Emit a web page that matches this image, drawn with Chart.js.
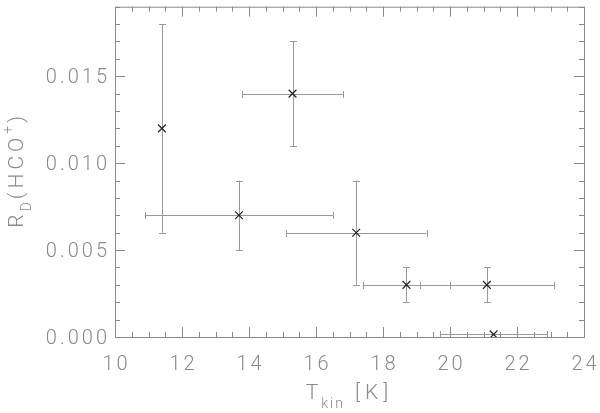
<!DOCTYPE html>
<html><head><meta charset="utf-8">
<script src="https://cdn.jsdelivr.net/npm/chart.js@4"></script>
<style>html,body{margin:0;padding:0;background:#fff}#w{width:600px;height:413px}</style>
</head><body><div id="w"><canvas id="c"></canvas></div>
<script>
const tKin   = [11.4, 13.7, 15.3, 17.2, 18.7, 21.1, 21.3];
const rD     = [0.012, 0.007, 0.014, 0.006, 0.003, 0.003, 0.00015];
const tErr   = [0, 2.8, 1.5, 2.1, 1.3, 2.0, 1.6];
const rErr   = [0.006, 0.002, 0.003, 0.003, 0.001, 0.001, 0];
const xTickValues = [10, 12, 14, 16, 18, 20, 22, 24];
const yTickValues = [0, 0.005, 0.010, 0.015];

const FONT = "Roboto, 'DejaVu Sans', sans-serif";
const W = '300';
const GRAY = '#8a8a8a';
const f = px => `${W} ${px}px ${FONT}`;

function txt(ctx, s, x, y, font, ls, align) {
  ctx.font = font;
  ctx.letterSpacing = ls + 'px';
  const w = ctx.measureText(s).width - ls;
  let sx = x;
  if (align === 'right') sx = x - w;
  else if (align === 'center') sx = x - w / 2;
  ctx.textAlign = 'left';
  ctx.fillText(s, sx, y);
  return w;
}
function wid(ctx, s, font, ls) {
  ctx.font = font; ctx.letterSpacing = ls + 'px';
  return ctx.measureText(s).width;
}

const frame = {
  id: 'frame',
  beforeDatasetsDraw(chart) {
    const {ctx, chartArea: a, scales: {x, y}} = chart;
    ctx.save();
    ctx.strokeStyle = GRAY; ctx.lineWidth = 1;
    ctx.strokeRect(a.left + 0.5, a.top + 0.5, a.right - a.left, a.bottom - a.top);
    ctx.beginPath();
    for (let v = x.min; v <= x.max + 1e-9; v += 0.5) {
      const px = Math.round(x.getPixelForValue(v)) + 0.5;
      const L = Math.abs(v - Math.round(v / 2) * 2) < 1e-9 ? 10 : 5;
      ctx.moveTo(px, a.bottom); ctx.lineTo(px, a.bottom - L);
      ctx.moveTo(px, a.top); ctx.lineTo(px, a.top + L);
    }
    for (let i = 0; i * 0.001 <= y.max + 1e-12; i++) {
      const v = i * 0.001;
      const py = Math.round(y.getPixelForValue(v)) + 0.5;
      const L = i % 5 === 0 ? 10 : 5;
      ctx.moveTo(a.left, py); ctx.lineTo(a.left + L, py);
      ctx.moveTo(a.right, py); ctx.lineTo(a.right - L, py);
    }
    ctx.stroke();
    ctx.strokeStyle = '#999';
    ctx.beginPath();
    const cap = 3.5;
    for (let i = 0; i < tKin.length; i++) {
      const px = x.getPixelForValue(tKin[i]), py = y.getPixelForValue(rD[i]);
      if (tErr[i] > 0) {
        const l = x.getPixelForValue(tKin[i] - tErr[i]), r = x.getPixelForValue(tKin[i] + tErr[i]);
        const yy = Math.round(py) + 0.5;
        ctx.moveTo(l, yy); ctx.lineTo(r, yy);
        ctx.moveTo(Math.round(l)+0.5, yy - cap); ctx.lineTo(Math.round(l)+0.5, yy + cap);
        ctx.moveTo(Math.round(r)+0.5, yy - cap); ctx.lineTo(Math.round(r)+0.5, yy + cap);
      }
      if (rErr[i] > 0) {
        const t = y.getPixelForValue(rD[i] + rErr[i]), b = y.getPixelForValue(rD[i] - rErr[i]);
        const xx = Math.round(px) + 0.5;
        ctx.moveTo(xx, t); ctx.lineTo(xx, b);
        ctx.moveTo(xx - cap, Math.round(t)+0.5); ctx.lineTo(xx + cap, Math.round(t)+0.5);
        ctx.moveTo(xx - cap, Math.round(b)+0.5); ctx.lineTo(xx + cap, Math.round(b)+0.5);
      }
    }
    ctx.stroke();
    ctx.restore();
  },
  afterDraw(chart) {
    const {ctx, chartArea: a, scales: {x, y}} = chart;
    ctx.save();
    ctx.fillStyle = GRAY;
    ctx.textBaseline = 'middle';
    xTickValues.forEach(v => txt(ctx, String(v), x.getPixelForValue(v), 365, f(20), 3, 'center'));
    yTickValues.forEach(v => txt(ctx, v.toFixed(3), 107, y.getPixelForValue(v) + 2, f(20), 3, 'right'));
    ctx.textBaseline = 'alphabetic';
    const cx = (a.left + a.right) / 2;
    const base = 399;
    const big = f(21), small = f(14);
    const w1 = wid(ctx, 'T', big, 3), w2 = wid(ctx, 'kin', small, 2), w3 = wid(ctx, '[K]', big, 5);
    const gap = 10;
    let sx = cx - (w1 + w2 + gap + w3) / 2;
    txt(ctx, 'T', sx, base, big, 3, 'left'); sx += w1;
    txt(ctx, 'kin', sx, base + 9, small, 2, 'left'); sx += w2 + gap;
    txt(ctx, '[K]', sx, base, big, 5, 'left');
    ctx.translate(23, (a.top + a.bottom) / 2);
    ctx.rotate(-Math.PI / 2);
    const parts = [['R', big, 0, 3], ['D', small, 8, 3], ['(HCO', big, 0, 4], ['+', small, -11, 3], [')', big, 0, 0]];
    const tot = parts.reduce((s, p) => s + wid(ctx, p[0], p[1], p[3]), 0);
    let s = -tot / 2;
    parts.forEach(p => { txt(ctx, p[0], s, p[2], p[1], p[3], 'left'); s += wid(ctx, p[0], p[1], p[3]); });
    ctx.restore();
  }
};

new Chart(document.getElementById('c'), {
  type: 'scatter',
  data: { datasets: [{
    data: tKin.map((t, i) => ({x: t, y: rD[i]})),
    pointStyle: 'crossRot', pointRadius: 5.5, borderColor: '#222', borderWidth: 1.2,
    pointHoverRadius: 5.5
  }]},
  options: {
    responsive: true, maintainAspectRatio: false, animation: false,
    layout: { padding: { top: 6, right: 16, left: 0, bottom: 0 } },
    plugins: { legend: { display: false }, tooltip: { enabled: false } },
    scales: {
      x: {
        type: 'linear', min: 10, max: 24,
        afterBuildTicks: s => { s.ticks = xTickValues.map(v => ({value: v})); },
        afterFit: s => { s.height = 76; },
        grid: { display: false, drawTicks: false },
        border: { display: false },
        ticks: { display: false }
      },
      y: {
        type: 'linear', min: 0, max: 0.019,
        afterBuildTicks: s => { s.ticks = yTickValues.map(v => ({value: v})); },
        afterFit: s => { s.width = 115; },
        grid: { display: false, drawTicks: false },
        border: { display: false },
        ticks: { display: false }
      }
    }
  },
  plugins: [frame]
});
</script></body></html>
